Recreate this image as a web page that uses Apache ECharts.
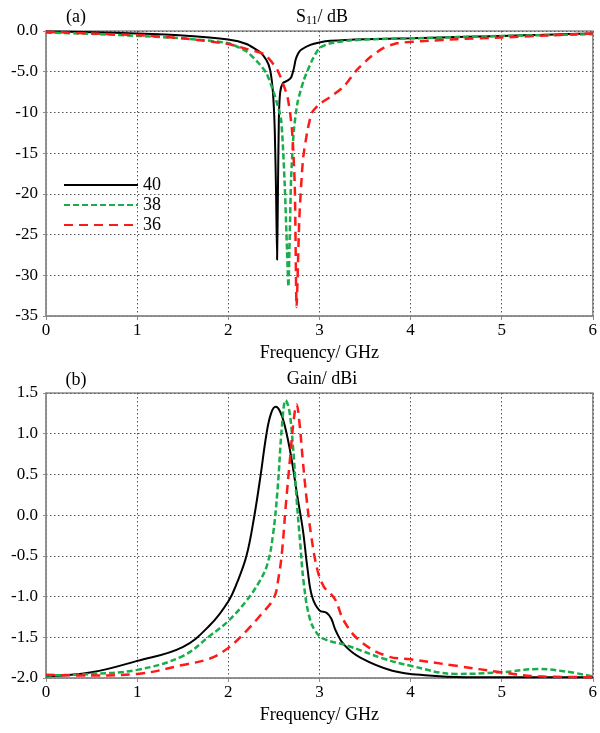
<!DOCTYPE html>
<html>
<head>
<meta charset="utf-8">
<script src="https://cdn.jsdelivr.net/npm/echarts@6/dist/echarts.min.js"></script>
<style>html,body{margin:0;padding:0;background:#fff}#c{width:600px;height:733px}</style>
</head>
<body>
<div id="c"></div>
<script>
// ---------- data ----------
var seriesNames = ['40', '38', '36'];
var xTicks = ['0', '1', '2', '3', '4', '5', '6'];
var s11Ticks = ['-35', '-30', '-25', '-20', '-15', '-10', '-5.0', '0.0'];
var gainTicks = ['-2.0', '-1.5', '-1.0', '-0.5', '0.0', '0.5', '1.0', '1.5'];

// S11 (dB)
var s11F40 = [0, 0.5, 1, 1.5, 2, 2.2, 2.35, 2.42, 2.46, 2.49, 2.51, 2.525, 2.536, 2.545, 2.555, 2.57, 2.6, 2.65, 2.69, 2.72, 2.74, 2.77, 2.8, 2.9, 3.0, 3.12, 3.5, 4, 4.5, 5, 5.5, 6];
var s11V40 = [-0.05, -0.15, -0.3, -0.55, -1.05, -1.6, -2.6, -3.6, -4.8, -7.5, -12, -20, -28.1, -20, -11, -7.5, -6.4, -6.1, -5.7, -4.6, -3.5, -2.7, -2.3, -1.7, -1.4, -1.2, -1.0, -0.9, -0.75, -0.6, -0.45, -0.3];
var s11F38 = [0, 0.5, 1, 1.5, 2, 2.2, 2.33, 2.42, 2.51, 2.58, 2.62, 2.645, 2.66, 2.675, 2.69, 2.72, 2.76, 2.83, 2.92, 3.0, 3.12, 3.3, 3.6, 4, 4.5, 5, 5.5, 6];
var s11V38 = [-0.2, -0.35, -0.6, -0.9, -1.5, -2.5, -3.9, -5.2, -7.9, -10.9, -19, -27, -31.4, -25, -18, -12.2, -8.8, -6, -3.6, -2.1, -1.5, -1.2, -1.0, -0.9, -0.75, -0.6, -0.5, -0.4];
var s11F36 = [0, 0.5, 1, 1.5, 2, 2.2, 2.4, 2.54, 2.65, 2.7, 2.73, 2.75, 2.78, 2.82, 2.87, 2.92, 3.01, 3.12, 3.27, 3.41, 3.56, 3.7, 3.85, 4.2, 4.5, 5, 5.5, 6];
var s11V36 = [-0.1, -0.3, -0.5, -0.9, -1.6, -2.2, -2.9, -4.8, -8.1, -12.2, -19, -33.9, -23, -15.8, -12.2, -10, -8.9, -8.1, -6.8, -4.8, -3.2, -2.1, -1.5, -1.2, -1.0, -0.8, -0.55, -0.3];

// Gain (dBi)
var gainF40 = [0, 0.5, 1, 1.5, 1.8, 2.0, 2.1, 2.2, 2.28, 2.35, 2.42, 2.47, 2.52, 2.57, 2.62, 2.69, 2.76, 2.82, 2.87, 2.92, 3.0, 3.08, 3.13, 3.18, 3.27, 3.45, 3.8, 4.2, 4.6, 5, 5.5, 6];
var gainV40 = [-1.98, -1.93, -1.79, -1.62, -1.35, -1.06, -0.82, -0.5, -0.05, 0.45, 1.0, 1.25, 1.33, 1.27, 1.1, 0.72, 0.22, -0.19, -0.66, -1.0, -1.17, -1.2, -1.27, -1.42, -1.59, -1.75, -1.91, -1.97, -1.99, -1.99, -1.99, -1.99];
var gainF38 = [0, 0.5, 1, 1.5, 1.8, 2.0, 2.2, 2.35, 2.43, 2.49, 2.54, 2.59, 2.63, 2.67, 2.71, 2.75, 2.79, 2.83, 2.89, 2.96, 3.05, 3.3, 3.7, 4.0, 4.5, 5.0, 5.4, 5.7, 6];
var gainV38 = [-1.97, -1.95, -1.9, -1.73, -1.48, -1.3, -1.05, -0.8, -0.6, -0.25, 0.3, 1.1, 1.41, 1.28, 0.85, 0.2, -0.35, -0.85, -1.25, -1.43, -1.52, -1.6, -1.76, -1.85, -1.95, -1.93, -1.89, -1.92, -1.98];
var gainF36 = [0, 0.5, 1, 1.5, 1.8, 2.0, 2.2, 2.36, 2.5, 2.55, 2.59, 2.63, 2.68, 2.72, 2.75, 2.78, 2.82, 2.86, 2.91, 2.98, 3.05, 3.12, 3.18, 3.27, 3.45, 3.74, 4.0, 4.5, 5.0, 5.4, 6];
var gainV36 = [-1.96, -1.97, -1.95, -1.84, -1.76, -1.63, -1.42, -1.22, -1.02, -0.78, -0.45, 0.1, 0.72, 1.18, 1.36, 1.15, 0.65, 0.2, -0.25, -0.68, -0.88, -0.96, -1.05, -1.3, -1.55, -1.73, -1.77, -1.85, -1.93, -1.98, -1.99];

// ---------- chart ----------
function pairs(f, v) { return f.map(function (x, i) { return [x, v[i]]; }); }
var FONT = "'Liberation Serif', 'Times New Roman', serif";
var GRAY = '#8c8c8c';
var styles = [
  { color: '#000000', width: 2, type: 'solid' },
  { color: '#1aad4b', width: 2.5, type: [6, 3] },
  { color: '#ff1a1a', width: 2.5, type: [9, 6] }
];

function xAxis(gi) {
  return {
    type: 'value', gridIndex: gi, min: 0, max: 6, interval: 1,
    name: 'Frequency/ GHz', nameLocation: 'middle', nameGap: 28,
    nameTextStyle: { color: '#000', fontSize: 18, fontFamily: FONT },
    axisLine: { show: true, onZero: false, lineStyle: { color: GRAY, width: 1.5 } },
    axisTick: { show: true, length: 4, lineStyle: { color: GRAY } },
    axisLabel: { color: '#000', fontSize: 17, fontFamily: FONT, margin: 6,
      formatter: function (v) { return xTicks[Math.round(v)]; } },
    splitLine: { show: true, lineStyle: { color: '#555', width: 1, type: [1.5, 2.5] } }
  };
}

var option = {
  animation: false,
  backgroundColor: '#fff',
  grid: [
    { left: 46, right: 3, top: 31, height: 285, show: true, borderColor: GRAY, borderWidth: 1.5, containLabel: false },
    { left: 46, right: 3, top: 393, height: 285, show: true, borderColor: GRAY, borderWidth: 1.5, containLabel: false }
  ],
  xAxis: [xAxis(0), xAxis(1)],
  yAxis: [
    {
      type: 'value', gridIndex: 0, min: -35, max: 0, interval: 5,
      axisLine: { show: true, lineStyle: { color: GRAY, width: 1.5 } },
      axisTick: { show: true, length: 3, lineStyle: { color: GRAY } },
      axisLabel: { color: '#000', fontSize: 17, fontFamily: FONT, margin: 8,
        formatter: function (v) { return s11Ticks[Math.round((v + 35) / 5)]; } },
      splitLine: { show: true, lineStyle: { color: '#555', width: 1, type: [1.5, 2.5] } }
    },
    {
      type: 'value', gridIndex: 1, min: -2, max: 1.5, interval: 0.5,
      axisLine: { show: true, lineStyle: { color: GRAY, width: 1.5 } },
      axisTick: { show: true, length: 3, lineStyle: { color: GRAY } },
      axisLabel: { color: '#000', fontSize: 17, fontFamily: FONT, margin: 8,
        formatter: function (v) { return gainTicks[Math.round((v + 2) / 0.5)]; } },
      splitLine: { show: true, lineStyle: { color: '#555', width: 1, type: [1.5, 2.5] } }
    }
  ],
  legend: {
    show: true,
    data: seriesNames, orient: 'vertical', left: 58, top: 171,
    itemWidth: 74, itemHeight: 14, itemGap: 2,
    textStyle: { color: '#000', fontSize: 18, fontFamily: FONT },
    itemStyle: { opacity: 0 },
    selectedMode: false
  },
  graphic: [
    { type: 'text', x: 76, y: 17, style: { text: '(a)', fill: '#000', font: '18px ' + FONT, textAlign: 'center', textVerticalAlign: 'middle' } },
    { type: 'text', x: 76, y: 380, style: { text: '(b)', fill: '#000', font: '18px ' + FONT, textAlign: 'center', textVerticalAlign: 'middle' } },
    { type: 'text', x: 322, y: 17, style: {
        text: '{a|S}{b|11}{a|/ dB}', textAlign: 'center', textVerticalAlign: 'middle',
        rich: { a: { fontSize: 18, fontFamily: FONT, fill: '#000', color: '#000' },
                b: { fontSize: 12, fontFamily: FONT, fill: '#000', color: '#000', padding: [8, 0, 0, 0] } } } },
    { type: 'text', x: 322, y: 379, style: { text: 'Gain/ dBi', fill: '#000', font: '18px ' + FONT, textAlign: 'center', textVerticalAlign: 'middle' } }
  ],
  series: []
};

var s11Data = [pairs(s11F40, s11V40), pairs(s11F38, s11V38), pairs(s11F36, s11V36)];
var gainData = [pairs(gainF40, gainV40), pairs(gainF38, gainV38), pairs(gainF36, gainV36)];
for (var i = 0; i < 3; i++) {
  option.series.push({
    name: seriesNames[i], type: 'line', xAxisIndex: 0, yAxisIndex: 0,
    data: s11Data[i], symbol: 'none', showSymbol: false, smooth: 0.2,
    lineStyle: styles[i], itemStyle: { color: styles[i].color }, z: 3 + i
  });
}
for (var j = 0; j < 3; j++) {
  option.series.push({
    name: seriesNames[j], type: 'line', xAxisIndex: 1, yAxisIndex: 1,
    data: gainData[j], symbol: 'none', showSymbol: false, smooth: 0.4,
    lineStyle: styles[j], itemStyle: { color: styles[j].color }, z: 3 + j
  });
}

var chart = echarts.init(document.getElementById('c'), null, { renderer: 'canvas' });
chart.setOption(option);
</script>
</body>
</html>
